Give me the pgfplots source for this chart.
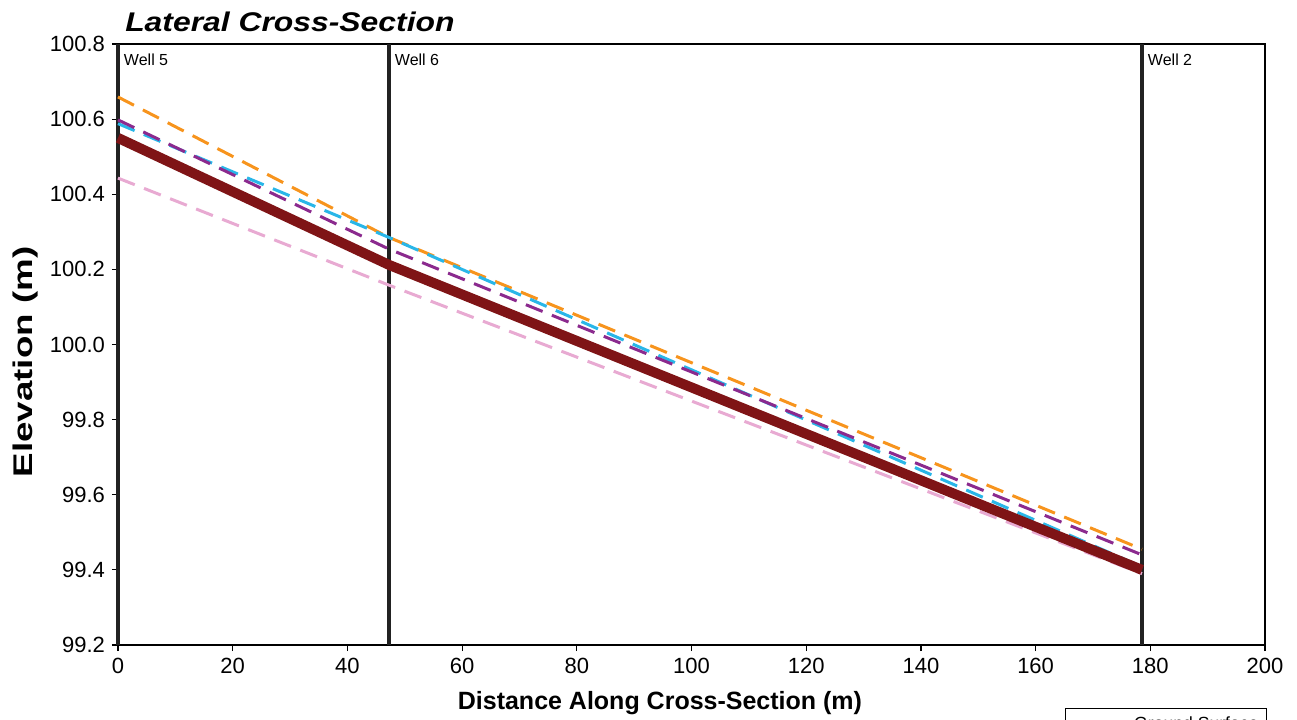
\documentclass[border=0pt]{standalone}
\usepackage{pgfplots}
\pgfplotsset{compat=1.18}
\usepackage{fontspec}
\setmainfont{Liberation Sans}
\definecolor{gsred}{HTML}{7F1416}
\definecolor{corange}{HTML}{F7941D}
\definecolor{cpurple}{HTML}{8B2A8E}
\definecolor{ccyan}{HTML}{29B6E8}
\definecolor{cpink}{HTML}{E8AAD2}
\definecolor{wellc}{HTML}{222222}
\begin{document}
\begin{tikzpicture}
\begin{axis}[
  scale only axis, width=573.5pt, height=300.5pt,
  xmin=0, xmax=200, ymin=99.2, ymax=100.8,
  xtick={0,20,...,200},
  ytick={99.2,99.4,...,100.8},
  yticklabel style={/pgf/number format/.cd, fixed, fixed zerofill, precision=1},
  /pgf/number format/assume math mode=true,
  ticklabel style={font=\fontsize{11}{13}\selectfont},
  tick align=outside, major tick length=3pt,
  xtick pos=bottom, ytick pos=left,
  axis line style={black, line width=0.6pt},
  tick style={black, line width=0.6pt},
  xlabel={\textbf{Distance Along Cross-Section (m)}},
  ylabel={\scalebox{1.36}[1]{\textbf{Elevation (m)}}},
  xlabel style={font=\fontsize{12.5}{14}\selectfont, at={(rel axis cs:0.4725,-0.108)}, anchor=base},
  ylabel style={font=\fontsize{13.5}{15}\selectfont, at={(rel axis cs:-0.081,0.471)}, anchor=center},
  clip=false,
  legend style={at={(rel axis cs:1.0017,-0.105)}, anchor=north east, draw=black, line width=0.5pt,
    font=\fontsize{8.8}{10.5}\selectfont, legend cell align=left, inner xsep=2pt, inner ysep=2pt},
  legend image code/.code={\draw[#1, line width=1.5pt] (4pt,0pt) -- (33pt,0pt);},
]
% well lines
\addplot[wellc, line width=1.7pt, forget plot] coordinates {(0,99.2) (0,100.8)};
\addplot[wellc, line width=1.7pt, forget plot] coordinates {(47.25,99.2) (47.25,100.8)};
\addplot[wellc, line width=1.7pt, forget plot] coordinates {(178.55,99.2) (178.55,100.8)};
% series
\addplot[corange, line width=1.5pt, dash pattern=on 9pt off 5pt, forget plot] coordinates {(0,100.659) (47.25,100.285) (178.55,99.455)};
\addplot[ccyan, line width=1.5pt, dash pattern=on 9pt off 5pt, forget plot] coordinates {(0,100.588) (47.25,100.285) (178.55,99.408)};
\addplot[cpurple, line width=1.5pt, dash pattern=on 9pt off 5pt, forget plot] coordinates {(0,100.598) (47.25,100.254) (178.55,99.44)};
\addplot[cpink, line width=1.5pt, dash pattern=on 9pt off 5pt, forget plot] coordinates {(0,100.443) (47.25,100.158) (178.55,99.39)};
\addplot[gsred, line width=5pt] coordinates {(0,100.55) (47.25,100.212) (178.55,99.40)};
\addlegendentry{Ground Surface}
\node[anchor=north west, inner sep=0pt, font=\fontsize{8}{9}\selectfont] at (axis cs:0,100.8) [xshift=2.8pt, yshift=-5pt] {Well 5};
\node[anchor=north west, inner sep=0pt, font=\fontsize{8}{9}\selectfont] at (axis cs:47.25,100.8) [xshift=2.8pt, yshift=-5pt] {Well 6};
\node[anchor=north west, inner sep=0pt, font=\fontsize{8}{9}\selectfont] at (axis cs:178.55,100.8) [xshift=2.8pt, yshift=-5pt] {Well 2};
\node[anchor=base west, inner sep=0pt, font=\fontsize{13.5}{16}\selectfont\bfseries\itshape] at (rel axis cs:0.006,1.02) {\scalebox{1.18}[1]{Lateral Cross-Section}};
\end{axis}
\pgfresetboundingbox
\useasboundingbox (-59pt,-37pt) rectangle (589.5pt,322.5pt);
\end{tikzpicture}
\end{document}
